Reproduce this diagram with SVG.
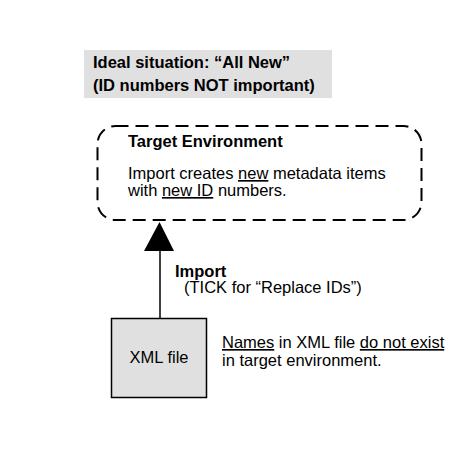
<svg xmlns="http://www.w3.org/2000/svg" width="454" height="452" viewBox="0 0 454 452">
<defs>
<style>
text{font-family:"Liberation Sans",Arial,sans-serif;font-size:16.5px;fill:#000}
.b{font-weight:bold}
.u{text-decoration:underline}
.fill{fill:#e0e0e0}
</style>
</defs>
<rect width="454" height="452" fill="#fff"/>
<g id="title">
<rect class="fill" x="84" y="50" width="248" height="48"/>
<text class="b" x="93" y="68">Ideal situation: “All New”</text>
<text class="b" x="93" y="91">(ID numbers NOT important)</text>
</g>
<g id="target">
<rect x="97.5" y="126" width="324" height="94" rx="18" ry="18" fill="none" stroke="#000" stroke-width="2" stroke-dasharray="13 7"/>
<text class="b" x="128" y="147">Target Environment</text>
<text x="128" y="179">Import creates <tspan class="u">new</tspan> metadata items</text>
<text x="128" y="196">with <tspan class="u">new ID</tspan> numbers.</text>
</g>
<g id="connectors">
<line x1="160" y1="250" x2="160" y2="319" stroke="#000" stroke-width="1.5"/>
<polygon points="159.5,222 144,251 174,251" fill="#000"/>
<text class="b" x="175" y="277">Import</text>
<text x="184" y="293">(TICK for “Replace IDs”)</text>
</g>
<g id="xml">
<rect class="fill" x="111.5" y="318.5" width="95" height="79" stroke="#000" stroke-width="1.5"/>
<text x="159" y="363" text-anchor="middle">XML file</text>
</g>
<g id="note">
<text x="222" y="348"><tspan class="u">Names</tspan> in XML file <tspan class="u">do not exist</tspan></text>
<text x="222" y="366">in target environment.</text>
</g>
</svg>
